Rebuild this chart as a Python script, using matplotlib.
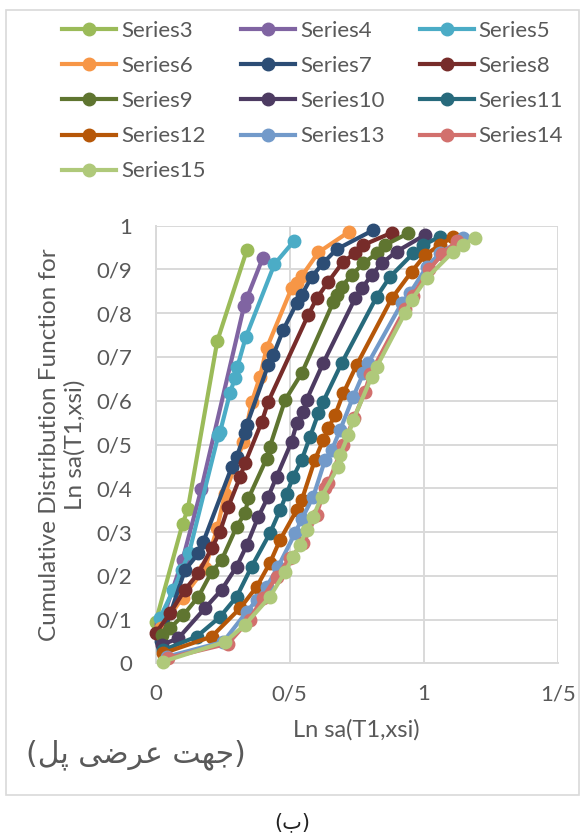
import numpy as np
import matplotlib
matplotlib.use('Agg')
import matplotlib.pyplot as plt
from matplotlib.patches import Rectangle

plt.rcParams['font.family'] = ['Lato', 'DejaVu Sans']

# data
names = ['Series3', 'Series4', 'Series5', 'Series6', 'Series7', 'Series8', 'Series9',
         'Series10', 'Series11', 'Series12', 'Series13', 'Series14', 'Series15']
colors = ['#9BBB59', '#8064A2', '#4BACC6', '#F79646', '#2C4D75', '#772C2A', '#5F7530',
          '#4D3B62', '#276A7C', '#B65708', '#729ACA', '#D2706D', '#AFC97A']

x3 = [0.00, 0.10, 0.12, 0.23, 0.34]
y3 = [0.095, 0.318, 0.353, 0.737, 0.944]
x4 = [0.02, 0.10, 0.17, 0.33, 0.34, 0.40]
y4 = [0.09, 0.236, 0.398, 0.817, 0.834, 0.927]
x5 = [0.016, 0.066, 0.097, 0.124, 0.234, 0.240, 0.277, 0.296, 0.305, 0.336, 0.443, 0.516]
y5 = [0.104, 0.168, 0.213, 0.251, 0.522, 0.528, 0.617, 0.653, 0.678, 0.745, 0.912, 0.965]
x6 = [0.02, 0.10, 0.184, 0.23, 0.259, 0.327, 0.358, 0.389, 0.414, 0.507, 0.526, 0.545, 0.607, 0.721]
y6 = [0.08, 0.15, 0.217, 0.31, 0.388, 0.505, 0.596, 0.655, 0.72, 0.857, 0.870, 0.885, 0.939, 0.986]
x7 = [0.02, 0.109, 0.159, 0.178, 0.284, 0.302, 0.333, 0.340, 0.420, 0.439, 0.476, 0.526, 0.545,
      0.582, 0.625, 0.675, 0.812]
y7 = [0.05, 0.213, 0.251, 0.278, 0.449, 0.471, 0.526, 0.545, 0.682, 0.705, 0.762, 0.823, 0.842,
      0.883, 0.915, 0.946, 0.99]
x8 = [0.0, 0.053, 0.109, 0.159, 0.209, 0.240, 0.271, 0.315, 0.333, 0.396, 0.420, 0.569, 0.601,
      0.644, 0.700, 0.744, 0.775, 0.881]
y8 = [0.069, 0.114, 0.168, 0.206, 0.263, 0.301, 0.358, 0.426, 0.457, 0.552, 0.598, 0.796, 0.834,
      0.872, 0.918, 0.937, 0.956, 0.984]
x9 = [0.022, 0.053, 0.103, 0.159, 0.209, 0.246, 0.302, 0.333, 0.346, 0.414, 0.426, 0.483, 0.545,
      0.663, 0.675, 0.694, 0.731, 0.775, 0.825, 0.856, 0.943]
y9 = [0.065, 0.08, 0.110, 0.152, 0.209, 0.236, 0.312, 0.343, 0.377, 0.468, 0.495, 0.602, 0.663,
      0.826, 0.842, 0.861, 0.887, 0.914, 0.937, 0.956, 0.983]
x10 = [0.022, 0.084, 0.184, 0.246, 0.302, 0.340, 0.383, 0.420, 0.451, 0.507, 0.526, 0.551, 0.563,
       0.625, 0.744, 0.769, 0.806, 0.843, 0.899, 1.005]
y10 = [0.042, 0.057, 0.126, 0.168, 0.221, 0.27, 0.335, 0.381, 0.426, 0.506, 0.548, 0.575, 0.602,
       0.686, 0.834, 0.857, 0.887, 0.914, 0.941, 0.979]
x11 = [0.028, 0.153, 0.240, 0.302, 0.358, 0.426, 0.464, 0.489, 0.513, 0.545, 0.576, 0.607, 0.625,
       0.694, 0.825, 0.874, 0.961, 0.999, 1.061]
y11 = [0.03, 0.061, 0.106, 0.152, 0.221, 0.297, 0.35, 0.388, 0.426, 0.465, 0.518, 0.571, 0.598,
       0.686, 0.838, 0.883, 0.937, 0.956, 0.975]
x12 = [0.028, 0.209, 0.315, 0.377, 0.426, 0.464, 0.526, 0.545, 0.594, 0.625, 0.644, 0.669, 0.700,
       0.750, 0.881, 0.955, 1.005, 1.061, 1.110]
y12 = [0.023, 0.061, 0.126, 0.175, 0.229, 0.282, 0.35, 0.373, 0.465, 0.51, 0.537, 0.567, 0.617,
       0.682, 0.834, 0.895, 0.933, 0.956, 0.975]
x13 = [0.041, 0.252, 0.340, 0.377, 0.414, 0.457, 0.520, 0.545, 0.588, 0.632, 0.657, 0.688, 0.737,
       0.775, 0.793, 0.918, 0.949, 1.011, 1.061, 1.148]
y13 = [0.015, 0.049, 0.118, 0.145, 0.175, 0.221, 0.297, 0.330, 0.381, 0.465, 0.487, 0.533, 0.609,
       0.663, 0.686, 0.823, 0.846, 0.906, 0.937, 0.971]
x14 = [0.045, 0.27, 0.35, 0.40, 0.451, 0.50, 0.551, 0.60, 0.632, 0.644, 0.70, 0.74, 0.781, 0.80,
       0.93, 0.96, 1.02, 1.07, 1.125]
y14 = [0.012, 0.045, 0.10, 0.15, 0.198, 0.24, 0.274, 0.34, 0.40, 0.411, 0.50, 0.56, 0.621, 0.66,
       0.81, 0.84, 0.90, 0.935, 0.965]
x15 = [0.028, 0.259, 0.333, 0.426, 0.483, 0.513, 0.538, 0.563, 0.588, 0.619, 0.681, 0.688, 0.719,
       0.737, 0.806, 0.825, 0.930, 0.955, 1.011, 1.110, 1.148, 1.191]
y15 = [0.004, 0.049, 0.088, 0.152, 0.209, 0.244, 0.27, 0.305, 0.335, 0.381, 0.449, 0.476, 0.522,
       0.556, 0.655, 0.678, 0.80, 0.83, 0.88, 0.941, 0.956, 0.973]

xs = [x3, x4, x5, x6, x7, x8, x9, x10, x11, x12, x13, x14, x15]
ys = [y3, y4, y5, y6, y7, y8, y9, y10, y11, y12, y13, y14, y15]

xticks = [0, 0.5, 1, 1.5]
xtick_labels = ['0', '0/5', '1', '1/5']
yticks = [0, 0.1, 0.2, 0.3, 0.4, 0.5, 0.6, 0.7, 0.8, 0.9, 1]
ytick_labels = ['0', '0/1', '0/2', '0/3', '0/4', '0/5', '0/6', '0/7', '0/8', '0/9', '1']

# persian note, pre-shaped glyphs in visual order
note = '(' + '\uFEDE\uFB58' + ' ' + '\uFBFD\uFEBF\uFEAE\uFECB' + ' ' + '\uFE96\uFEEC\uFE9F' + ')'
caption = '(\u0628)'

txt = '#595959'
grid = '#d9d9d9'

fig = plt.figure(figsize=(5.84, 8.34), dpi=100)
ax = fig.add_axes([155.7/584, 1-663.3/834, (557.7-155.7)/584, (663.3-225.7)/834])

lines = []
for i in range(len(names)):
    ln, = ax.plot(xs[i], ys[i], color=colors[i], lw=3.0, marker='o', ms=9,
                  label=names[i], clip_on=False, zorder=3+i)
    lines.append(ln)

ax.set_xlim(0, 1.5)
ax.set_ylim(0, 1)
ax.set_xticks(xticks)
ax.set_xticklabels(xtick_labels)
ax.set_yticks(yticks)
ax.set_yticklabels(ytick_labels)
ax.tick_params(length=0, labelsize=16, colors=txt)
ax.tick_params(axis='y', pad=17)
ax.tick_params(axis='x', pad=15)
ax.grid(True, color=grid, lw=1.4)
ax.set_axisbelow(True)
for s in ['top', 'right']:
    ax.spines[s].set_visible(False)
for s in ['left', 'bottom']:
    ax.spines[s].set_color(grid)
    ax.spines[s].set_linewidth(1.4)

ax.set_xlabel('Ln sa(T1,xsi)', fontsize=17, color=txt)
ax.xaxis.set_label_coords(0.5, -0.128)
fig.text(62.5/584, 1-445/834, 'Cumulative Distribution Function for\nLn sa(T1,xsi)',
         fontsize=17.5, color=txt, rotation=90, ha='center', va='center',
         multialignment='center', linespacing=1.2)

# legend filled row by row like the original
order = [0, 3, 6, 9, 12, 1, 4, 7, 10, 2, 5, 8, 11]
fig.legend([lines[k] for k in order], [names[k] for k in order],
           loc='upper left', bbox_to_anchor=(62/584, 1-21/834), ncol=3, frameon=False,
           fontsize=16, labelcolor=txt, handlelength=2.45, handletextpad=0.2,
           columnspacing=1.6, labelspacing=0.68, borderaxespad=0, borderpad=0)

fig.text(26/584, 1-755/834, note, family=['DejaVu Sans'], fontsize=21.5, color=txt,
         ha='left', va='center')
fig.text(0.5, 1-822/834, caption, family=['DejaVu Sans'], fontsize=15, color='#222222',
         ha='center', va='center')

fig.patches.append(Rectangle((6/584, 1-795/834), 573/584, 785/834, transform=fig.transFigure,
                             fill=False, ec=grid, lw=1.2))

fig.savefig('out.png', dpi=100)
